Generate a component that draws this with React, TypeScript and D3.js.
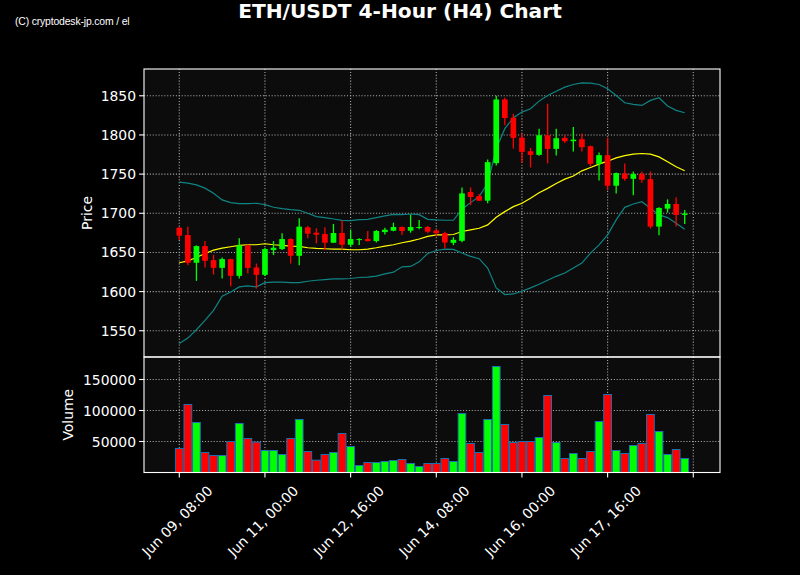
import React from 'react';
import * as d3 from 'd3';

const W = 800, H = 575;
const L = 144, R = 720, PT = 69, PB = 357, VT = 357, VB = 472.5;

const START = Date.UTC(2023, 5, 9, 8);
const STEP = 4 * 3600 * 1000;

const opens = [1681.6, 1672.2, 1636.8, 1658.1, 1640.2, 1630.3, 1641.5, 1620.1, 1659, 1630.8,
  1621.4, 1653, 1654.3, 1667.1, 1645.7, 1682, 1675.2, 1673.5, 1662.4, 1674.8,
  1659.8, 1665.8, 1667.1, 1664.5, 1676, 1677.8, 1682.5, 1677.8, 1681.2, 1682.5,
  1678, 1674.6, 1662.3, 1664.8, 1727.1, 1722, 1716.1, 1764, 1845.3, 1822,
  1796.6, 1779.2, 1774.6, 1799.6, 1782.2, 1796.2, 1792, 1794.5, 1785.6, 1763.1,
  1774.2, 1735.2, 1750.8, 1744, 1750, 1743.6, 1683, 1705.9, 1711.9, 1697.9];
const highs = [1682, 1682.9, 1659, 1664.5, 1647, 1643.6, 1642, 1668, 1660, 1635.9,
  1656, 1664.5, 1674.4, 1668, 1693.6, 1683.8, 1680.8, 1682, 1686.3, 1690.6,
  1678.6, 1668, 1677.4, 1678.6, 1681.6, 1688, 1683, 1697.9, 1691.5, 1683.8,
  1679.7, 1676.3, 1669.5, 1733, 1733, 1724.6, 1768.6, 1850, 1847.5, 1827,
  1801.7, 1783.5, 1808, 1839.8, 1808, 1799.6, 1810, 1801.7, 1786.4, 1777.5,
  1796.6, 1752.1, 1763.6, 1753.4, 1753.4, 1753.4, 1707.6, 1717.8, 1720.3, 1704.2];
const lows = [1666, 1633.8, 1613.7, 1630.8, 1621.8, 1616.7, 1606.8, 1616.7, 1623.1, 1603.8,
  1620, 1646.6, 1653, 1635.9, 1633.8, 1668, 1661.5, 1653, 1662, 1653.8,
  1657, 1659.4, 1664, 1662.8, 1673, 1677, 1672.2, 1675.2, 1679.5, 1674.4,
  1670.3, 1655.5, 1659.3, 1663, 1710.6, 1715.7, 1712.7, 1761, 1812.3, 1782.6,
  1764.4, 1758.5, 1773.3, 1763.6, 1773.7, 1789.8, 1778.8, 1778.8, 1760.2, 1742,
  1729.7, 1725.4, 1741.5, 1722.9, 1739, 1680.5, 1672, 1700.8, 1683, 1686.4];
const closes = [1671.4, 1636.8, 1658.1, 1639.3, 1630.3, 1641.5, 1620.1, 1659, 1630.3, 1621.4,
  1654.3, 1656, 1667.1, 1645.7, 1682.9, 1673.9, 1672.6, 1662.4, 1674.8, 1659.8,
  1667.1, 1667.1, 1664.5, 1677.4, 1679, 1682.5, 1677.4, 1682.5, 1682.5, 1676.5,
  1674.6, 1662.7, 1666.1, 1725.4, 1720.8, 1716.1, 1765.3, 1845.3, 1821.6, 1796.2,
  1778.4, 1774.6, 1799.6, 1782.2, 1795.8, 1792, 1794, 1784.3, 1763.1, 1774.2,
  1735.2, 1751.3, 1744, 1750, 1742.8, 1683, 1706.8, 1711.9, 1697.9, 1699.6];
const volumes = [38710, 109700, 80650, 32260, 27420, 27420, 50000, 79030, 54840, 48920,
  35480, 35480, 29030, 54840, 85480, 33870, 19890, 29030, 32260, 62900,
  41940, 11290, 16130, 16130, 17740, 19350, 20970, 14520, 9680, 14520,
  14520, 22580, 17740, 95160, 46770, 32260, 85480, 170970, 77420, 48390,
  50000, 50000, 56450, 124190, 48390, 22580, 30650, 22580, 33870, 82260,
  125810, 35480, 30650, 43550, 46770, 93550, 66130, 29030, 37100, 22580];
const bbUpper = [1739.7, 1738.5, 1736.3, 1732.1, 1725.6, 1717.1, 1713.7, 1712.4, 1712.4, 1712.8,
  1711.1, 1707.7, 1706, 1704.7, 1703.8, 1700, 1695.7, 1694.4, 1692.7, 1691,
  1690.6, 1691.9, 1692.3, 1694.4, 1696.6, 1698.7, 1698.3, 1699.1, 1698.3, 1692.3,
  1691.5, 1691.1, 1691.1, 1705.1, 1713.6, 1721.2, 1738.1, 1782.6, 1808, 1822,
  1829.2, 1833.5, 1843.2, 1850.4, 1855.9, 1861, 1864.4, 1866.5, 1866.1, 1864.4,
  1858.9, 1850.4, 1841.1, 1839, 1837.7, 1844.1, 1847.5, 1836.9, 1831.4, 1828.4];
const bbMiddle = [1636.8, 1639.3, 1643.6, 1648.7, 1653, 1655.6, 1657.3, 1659, 1659.8, 1659.8,
  1661.1, 1659.8, 1659, 1658.1, 1657.7, 1656, 1655.1, 1654.7, 1654.3, 1654.3,
  1653.4, 1653.4, 1654.3, 1656, 1658.1, 1659.8, 1662.4, 1664.5, 1667.1, 1670.5,
  1672.5, 1672.5, 1672.9, 1676.7, 1678.8, 1680.9, 1685.2, 1694.9, 1702.1, 1708.5,
  1712.7, 1719.1, 1726.3, 1731.8, 1738.1, 1743.6, 1747.5, 1754.2, 1758.5, 1762.7,
  1766.5, 1770.8, 1773.7, 1775.4, 1776.3, 1775.4, 1772, 1765.7, 1759.3, 1754.2];
const bbLower = [1533.8, 1540.6, 1551.3, 1563.2, 1576.1, 1594, 1599.6, 1606, 1607.3, 1606,
  1611.5, 1612, 1612, 1611.5, 1611.5, 1613.2, 1614.5, 1615.4, 1616.2, 1616.2,
  1616.7, 1618, 1618.4, 1619.7, 1622.6, 1624.8, 1631.6, 1632.1, 1638, 1648.7,
  1652.5, 1654.2, 1653.8, 1649.2, 1644.9, 1642, 1630.1, 1604.7, 1596.2, 1597,
  1600.4, 1604.7, 1609.3, 1614.4, 1619.5, 1623.7, 1630.1, 1636.4, 1649.2, 1659.7,
  1672.5, 1691.5, 1707.6, 1711.9, 1714.8, 1706.4, 1697.9, 1694.5, 1687.3, 1679.7];

const priceTicks = [1550, 1600, 1650, 1700, 1750, 1800, 1850];
const volumeTicks = [50000, 100000, 150000];
const volumeTickLabels = ['50000', '100000', '150000'];
const timeTicks = ['2023-06-09T08:00Z', '2023-06-11T00:00Z', '2023-06-12T16:00Z', '2023-06-14T08:00Z',
  '2023-06-16T00:00Z', '2023-06-17T16:00Z', '2023-06-19T08:00Z'];
const timeTickLabels = ['Jun 09, 08:00', 'Jun 11, 00:00', 'Jun 12, 16:00', 'Jun 14, 08:00',
  'Jun 16, 00:00', 'Jun 17, 16:00', ''];

const dates = opens.map((_, i) => new Date(START + i * STEP));

const UP = '#00ff00', DOWN = '#ff0000';
const GRID = '#a8a8a8';
const FONT = 'DejaVu Sans, sans-serif';

export default function App() {
  const x = d3.scaleUtc()
    .domain([new Date(START - 4.12 * STEP), new Date(START + 63.12 * STEP)])
    .range([L, R]);
  const yP = d3.scaleLinear().domain([1516.5, 1884.2]).range([PB, PT]);
  const yV = d3.scaleLinear().domain([0, 186300]).range([VB, VT]);
  const bodyHalf = 0.33 * STEP;
  const barHalf = 0.45 * STEP;

  const line = (arr: number[]) =>
    d3.line<number>().x((_, i) => x(dates[i])).y((d) => yP(d))(arr) || '';

  const tDates = timeTicks.map((t) => new Date(t));

  return (
    <svg width={W} height={H} style={{ position: 'fixed', left: 0, top: 0, background: '#000' }}
      fontFamily={FONT}>
      <rect x={0} y={0} width={W} height={H} fill="#000" />
      <rect x={L} y={PT} width={R - L} height={PB - PT} fill="#0c0c0c" />
      <rect x={L} y={VT} width={R - L} height={VB - VT} fill="#0c0c0c" />

      {/* grid */}
      <g stroke={GRID} strokeWidth={1.1} strokeDasharray="1.1,1.8">
        {priceTicks.map((p) => (
          <line key={'pg' + p} x1={L} x2={R} y1={yP(p)} y2={yP(p)} />
        ))}
        {volumeTicks.map((v) => (
          <line key={'vg' + v} x1={L} x2={R} y1={yV(v)} y2={yV(v)} />
        ))}
        {tDates.map((d, i) => (
          <g key={'tg' + i}>
            <line x1={x(d)} x2={x(d)} y1={PT} y2={PB} />
            <line x1={x(d)} x2={x(d)} y1={VT} y2={VB} />
          </g>
        ))}
      </g>

      {/* bollinger bands */}
      <path d={line(bbUpper)} fill="none" stroke="#108484" strokeWidth={1.2} />
      <path d={line(bbLower)} fill="none" stroke="#108484" strokeWidth={1.2} />
      <path d={line(bbMiddle)} fill="none" stroke="#ffff00" strokeWidth={1.2} />

      {/* candles */}
      {dates.map((d, i) => {
        const up = closes[i] >= opens[i];
        const c = up ? UP : DOWN;
        const top = yP(Math.max(opens[i], closes[i]));
        const bot = yP(Math.min(opens[i], closes[i]));
        const x0 = x(new Date(d.getTime() - bodyHalf));
        const x1 = x(new Date(d.getTime() + bodyHalf));
        return (
          <g key={'c' + i}>
            <line x1={x(d)} x2={x(d)} y1={yP(highs[i])} y2={yP(lows[i])} stroke={c} strokeWidth={1.3} />
            <rect x={x0} y={top} width={x1 - x0} height={Math.max(1, bot - top)} fill={c} />
          </g>
        );
      })}

      {/* volume */}
      {dates.map((d, i) => {
        const up = closes[i] >= opens[i];
        const x0 = x(new Date(d.getTime() - barHalf));
        const x1 = x(new Date(d.getTime() + barHalf));
        return (
          <rect key={'v' + i} x={x0} y={yV(volumes[i])} width={x1 - x0} height={yV(0) - yV(volumes[i])}
            fill={up ? UP : DOWN} stroke="#1f6fb0" strokeWidth={1} />
        );
      })}

      {/* spines */}
      <rect x={L} y={PT} width={R - L} height={PB - PT} fill="none" stroke="#fff" strokeWidth={1.1} />
      <rect x={L} y={VT} width={R - L} height={VB - VT} fill="none" stroke="#fff" strokeWidth={1.1} />

      {/* y ticks price */}
      {priceTicks.map((p) => (
        <g key={'pt' + p}>
          <line x1={L - 4.9} x2={L} y1={yP(p)} y2={yP(p)} stroke="#fff" strokeWidth={1.1} />
          <text x={L - 8} y={yP(p)} fill="#fff" fontSize={13.9} textAnchor="end" dominantBaseline="central">{p}</text>
        </g>
      ))}
      {volumeTicks.map((v, i) => (
        <g key={'vt' + v}>
          <line x1={L - 4.9} x2={L} y1={yV(v)} y2={yV(v)} stroke="#fff" strokeWidth={1.1} />
          <text x={L - 8} y={yV(v)} fill="#fff" fontSize={13.9} textAnchor="end" dominantBaseline="central">{volumeTickLabels[i]}</text>
        </g>
      ))}

      {/* x ticks */}
      {tDates.map((d, i) => (
        <g key={'xt' + i}>
          <line x1={x(d)} x2={x(d)} y1={VB} y2={VB + 4.9} stroke="#fff" strokeWidth={1.1} />
          {timeTickLabels[i] && (
            <text transform={`translate(${x(d) - 2},${521}) rotate(-45)`} fill="#fff" fontSize={13.9}
              textAnchor="middle" dominantBaseline="central">{timeTickLabels[i]}</text>
          )}
        </g>
      ))}

      {/* axis labels */}
      <text transform={`translate(87,${(PT + PB) / 2}) rotate(-90)`} fill="#fff" fontSize={13.9}
        textAnchor="middle" dominantBaseline="central">Price</text>
      <text transform={`translate(68,${(VT + VB) / 2}) rotate(-90)`} fill="#fff" fontSize={13.9}
        textAnchor="middle" dominantBaseline="central">Volume</text>

      {/* title */}
      <text x={400} y={17.5} fill="#fff" fontSize={20.2} fontWeight="bold" textAnchor="middle">ETH/USDT 4-Hour (H4) Chart</text>
      <text x={15} y={24.5} fill="#fff" fontSize={10.4} fontFamily="Liberation Sans, Arial, sans-serif"
        letterSpacing={-0.15}>(C) cryptodesk-jp.com / el</text>
    </svg>
  );
}
